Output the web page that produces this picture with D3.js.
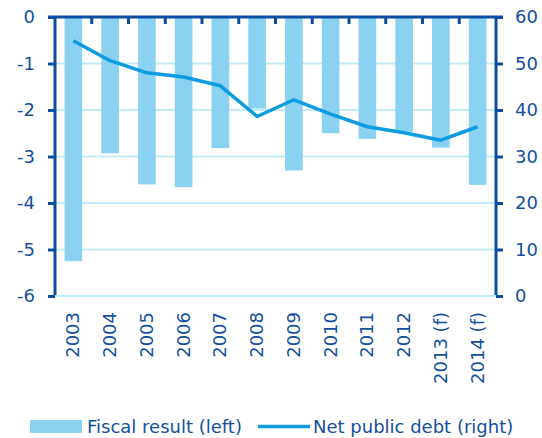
<!DOCTYPE html>
<html lang="en">
<head>
<meta charset="utf-8">
<title>Fiscal result and net public debt</title>
<script src="https://d3js.org/d3.v7.min.js"></script>
<style>
  body { margin: 0; background: #fff; }
  svg text { font-family: "DejaVu Sans", Verdana, sans-serif; fill: #1450a0; }
</style>
</head>
<body>
<script>
// data
var years = ["2003", "2004", "2005", "2006", "2007", "2008", "2009", "2010", "2011", "2012", "2013 (f)", "2014 (f)"];
var fiscal = [-5.25, -2.93, -3.6, -3.66, -2.82, -1.97, -3.3, -2.5, -2.62, -2.47, -2.81, -3.61];
var debt = [54.9, 50.6, 48.0, 47.1, 45.2, 38.6, 42.2, 39.1, 36.4, 35.1, 33.5, 36.4];
var leftTicks = [0, -1, -2, -3, -4, -5, -6];
var rightTicks = [0, 10, 20, 30, 40, 50, 60];

var W = 542, H = 438;
var pLeft = 55, pRight = 496, pTop = 17, pBottom = 296;
var axisCol = "#0a4ea4", barCol = "#8bd2f2", lineCol = "#0d9ce0", gridCol = "#c4ebf8";

var svg = d3.select("body").append("svg").attr("width", W).attr("height", H);

var x = d3.scaleBand().domain(years).range([pLeft, pRight]).paddingInner(0.52).paddingOuter(0.26);
var yL = d3.scaleLinear().domain([-6, 0]).range([pBottom, pTop]);
var yR = d3.scaleLinear().domain([0, 60]).range([pBottom, pTop]);

// grid
svg.append("g").selectAll("line")
  .data(leftTicks.filter(d => d !== 0))
  .join("line")
  .attr("x1", pLeft).attr("x2", pRight)
  .attr("y1", d => yL(d)).attr("y2", d => yL(d))
  .attr("stroke", gridCol).attr("stroke-width", 2);

// bars
svg.append("g").selectAll("rect")
  .data(fiscal)
  .join("rect")
  .attr("x", (d, i) => x(years[i]))
  .attr("width", x.bandwidth())
  .attr("y", yL(0))
  .attr("height", d => yL(d) - yL(0))
  .attr("fill", barCol);

// line
var line = d3.line()
  .x((d, i) => x(years[i]) + x.bandwidth() / 2)
  .y(d => yR(d));
svg.append("path")
  .datum(debt)
  .attr("d", line)
  .attr("fill", "none")
  .attr("stroke", lineCol)
  .attr("stroke-width", 3.5)
  .attr("stroke-linejoin", "round");

// left axis (plain hyphen for negatives, like the original)
var axL = svg.append("g").attr("transform", `translate(${pLeft},0)`)
  .call(d3.axisLeft(yL).tickValues(leftTicks).tickSize(7).tickPadding(13).tickFormat(d => String(d)));
axL.select(".domain").remove();
axL.selectAll(".tick line").attr("stroke", axisCol).attr("stroke-width", 3);
axL.selectAll(".tick text").style("font-size", "18px").attr("fill", "#1450a0");
axL.append("line").attr("x1", 0).attr("x2", 0).attr("y1", pTop).attr("y2", pBottom)
  .attr("stroke", axisCol).attr("stroke-width", 3);

// right axis
var axR = svg.append("g").attr("transform", `translate(${pRight},0)`)
  .call(d3.axisRight(yR).tickValues(rightTicks).tickSize(7).tickPadding(12));
axR.select(".domain").remove();
axR.selectAll(".tick line").attr("stroke", axisCol).attr("stroke-width", 3);
axR.selectAll(".tick text").style("font-size", "18px").attr("fill", "#1450a0");
axR.append("line").attr("x1", 0).attr("x2", 0).attr("y1", pTop).attr("y2", pBottom)
  .attr("stroke", axisCol).attr("stroke-width", 3);

// top axis line with ticks between categories
var bounds = years.slice(1).map(d => x(d) - x.step() * x.paddingInner() / 2);
svg.append("line").attr("x1", pLeft - 7).attr("x2", pRight + 7).attr("y1", pTop).attr("y2", pTop)
  .attr("stroke", axisCol).attr("stroke-width", 3);
svg.append("g").selectAll("line")
  .data(bounds)
  .join("line")
  .attr("x1", d => d).attr("x2", d => d)
  .attr("y1", pTop).attr("y2", pTop + 7)
  .attr("stroke", axisCol).attr("stroke-width", 3);

// bottom baseline
svg.append("line").attr("x1", pLeft).attr("x2", pRight).attr("y1", pBottom).attr("y2", pBottom)
  .attr("stroke", gridCol).attr("stroke-width", 2);

// category labels
svg.append("g").selectAll("text")
  .data(years)
  .join("text")
  .attr("transform", d => `translate(${x(d) + x.bandwidth() / 2 + 6},${pBottom + 16}) rotate(-90)`)
  .attr("text-anchor", "end")
  .style("font-size", "18px")
  .text(d => d);

// legend
var lg = svg.append("g");
lg.append("rect").attr("x", 30).attr("y", 420).attr("width", 52).attr("height", 13).attr("fill", barCol);
lg.append("text").attr("x", 87).attr("y", 433).style("font-size", "18px").text("Fiscal result (left)");
lg.append("line").attr("x1", 258).attr("x2", 310).attr("y1", 426.5).attr("y2", 426.5)
  .attr("stroke", lineCol).attr("stroke-width", 3.5);
lg.append("text").attr("x", 313).attr("y", 433).style("font-size", "18px").text("Net public debt (right)");
</script>
</body>
</html>
